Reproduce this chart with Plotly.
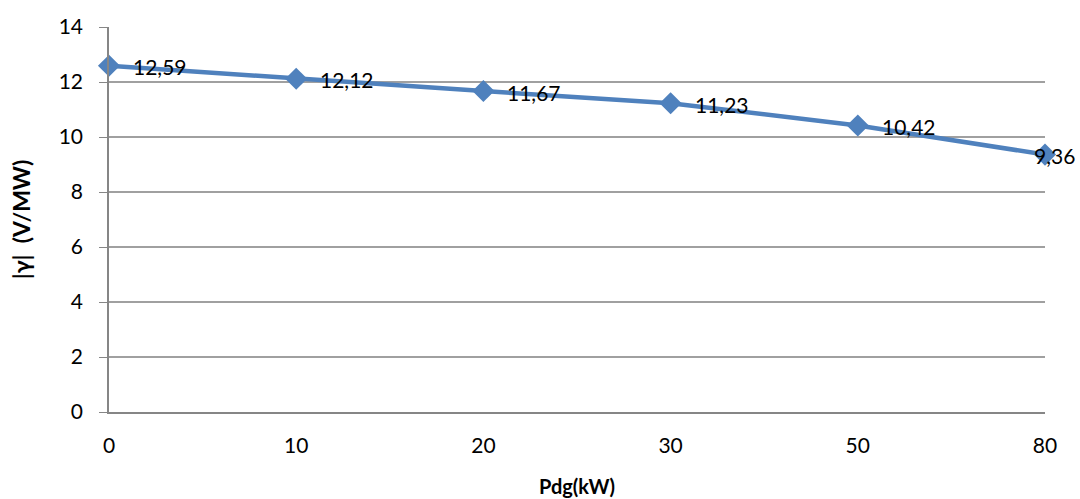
import plotly.graph_objects as go

categories = ["0", "10", "20", "30", "50", "80"]
values = [12.59, 12.12, 11.67, 11.23, 10.42, 9.36]
y_ticks = [0, 2, 4, 6, 8, 10, 12, 14]

labels = [f"{v:.2f}".replace(".", ",") for v in values]
label_shift = [22, 22, 22, 22, 22, -13]

FONT = "Lato, 'Open Sans', sans-serif"

fig = go.Figure()
fig.add_trace(go.Scatter(
    x=categories, y=values, mode="lines+markers",
    line=dict(color="#4F81BD", width=4.5),
    marker=dict(symbol="diamond", size=17, color="#4F81BD"),
    cliponaxis=False, showlegend=False,
))
for i, (v, t, s) in enumerate(zip(values, labels, label_shift)):
    fig.add_annotation(
        x=i, y=v, text=t, showarrow=False, xanchor="left", yanchor="middle",
        xshift=s, yshift=-1,
        font=dict(family=FONT, size=21, color="black"),
    )

fig.update_layout(
    width=1080, height=499,
    margin=dict(l=109, r=35, t=27, b=87),
    paper_bgcolor="white", plot_bgcolor="white",
    font=dict(family=FONT, size=20, color="black"),
)
fig.update_xaxes(
    type="category", range=[0, 5], automargin=False,
    showgrid=False, showline=True, linecolor="#868686", linewidth=1.5,
    ticks="", tickfont=dict(size=21), ticklabelstandoff=14,
    title=dict(text="<b>Pdg(kW)</b>", font=dict(size=20), standoff=24),
)
fig.update_yaxes(
    range=[0, 14], tickvals=y_ticks, automargin=False,
    showgrid=True, gridcolor="#A0A0A0", gridwidth=1.5,
    showline=True, linecolor="#868686", linewidth=1.5,
    ticks="outside", tickcolor="#868686", ticklen=8,
    tickfont=dict(size=21), ticklabelstandoff=12,
    zeroline=False,
    title=dict(text="<b>|γ|  (V/MW)</b>", font=dict(size=23), standoff=22),
)

fig.write_html(
    "out.html",
    config={"displayModeBar": False},
    post_script="document.body.style.margin='0';document.body.style.overflow='hidden';",
)
